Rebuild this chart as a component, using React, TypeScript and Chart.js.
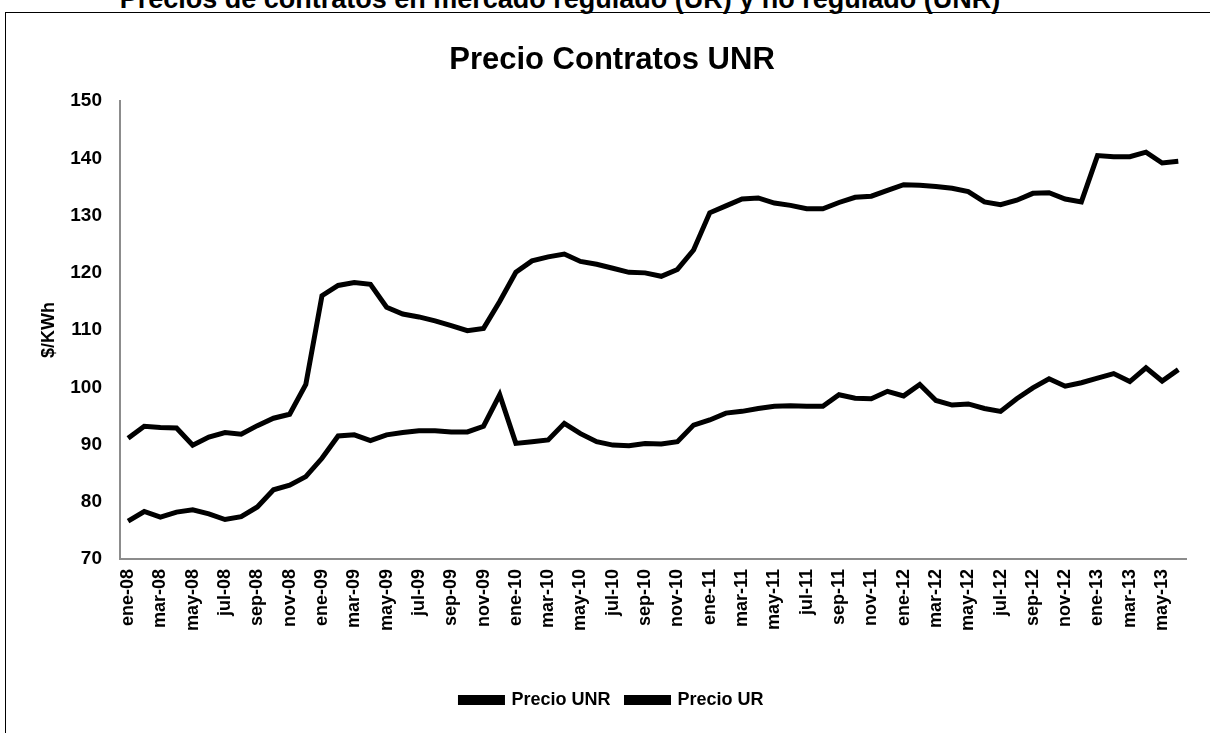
import React, { useEffect, useRef } from 'react';
import { Chart, registerables } from 'chart.js';

Chart.register(...registerables);

const pageTitle = 'Precios de contratos en mercado regulado (UR) y no regulado (UNR)';
const chartTitle = 'Precio Contratos UNR';
const yAxisTitle = '$/KWh';
const seriesNames = ['Precio UNR', 'Precio UR'];

const months = [
  'ene-08', 'feb-08', 'mar-08', 'abr-08', 'may-08', 'jun-08', 'jul-08', 'ago-08', 'sep-08', 'oct-08', 'nov-08', 'dic-08',
  'ene-09', 'feb-09', 'mar-09', 'abr-09', 'may-09', 'jun-09', 'jul-09', 'ago-09', 'sep-09', 'oct-09', 'nov-09', 'dic-09',
  'ene-10', 'feb-10', 'mar-10', 'abr-10', 'may-10', 'jun-10', 'jul-10', 'ago-10', 'sep-10', 'oct-10', 'nov-10', 'dic-10',
  'ene-11', 'feb-11', 'mar-11', 'abr-11', 'may-11', 'jun-11', 'jul-11', 'ago-11', 'sep-11', 'oct-11', 'nov-11', 'dic-11',
  'ene-12', 'feb-12', 'mar-12', 'abr-12', 'may-12', 'jun-12', 'jul-12', 'ago-12', 'sep-12', 'oct-12', 'nov-12', 'dic-12',
  'ene-13', 'feb-13', 'mar-13', 'abr-13', 'may-13', 'jun-13',
];

const precioUNR = [
  91.1, 93.2, 93.0, 92.9, 89.9, 91.3, 92.1, 91.8, 93.3, 94.6, 95.3, 100.5,
  116.0, 117.8, 118.3, 118.0, 114.0, 112.8, 112.3, 111.6, 110.8, 109.9, 110.3, 115.0,
  120.1, 122.1, 122.8, 123.3, 122.0, 121.5, 120.8, 120.1, 120.0, 119.4, 120.6, 124.0,
  130.5, 131.7, 132.9, 133.1, 132.2, 131.8, 131.2, 131.2, 132.3, 133.2, 133.4, 134.4,
  135.4, 135.3, 135.1, 134.8, 134.2, 132.4, 131.9, 132.7, 133.9, 134.0, 132.9, 132.4,
  140.5, 140.3, 140.3, 141.1, 139.2, 139.5,
];

const precioUR = [
  76.6, 78.3, 77.3, 78.2, 78.6, 77.9, 76.9, 77.4, 79.1, 82.1, 82.9, 84.4,
  87.6, 91.5, 91.7, 90.7, 91.7, 92.1, 92.4, 92.4, 92.2, 92.2, 93.2, 98.7,
  90.2, 90.5, 90.8, 93.7, 91.9, 90.5, 89.9, 89.8, 90.2, 90.1, 90.5, 93.4,
  94.3, 95.5, 95.8, 96.3, 96.7, 96.8, 96.7, 96.7, 98.7, 98.1, 98.0, 99.3,
  98.5, 100.5, 97.7, 96.9, 97.1, 96.3, 95.8, 98.0, 99.9, 101.5, 100.2, 100.8,
  101.6, 102.4, 101.0, 103.4, 101.1, 103.1,
];

const yMin = 70;
const yMax = 150;
const yStep = 10;

const FONT = "'Liberation Sans', Arial, sans-serif";

export default function App() {
  const ref = useRef<HTMLCanvasElement | null>(null);

  useEffect(() => {
    if (!ref.current) return;
    const chart = new Chart(ref.current, {
      type: 'line',
      data: {
        labels: months,
        datasets: [
          {
            label: seriesNames[0],
            data: precioUNR,
            borderColor: '#000',
            backgroundColor: '#000',
            borderWidth: 5,
            pointRadius: 0,
            tension: 0,
            yAxisID: 'y',
          },
          {
            label: seriesNames[1],
            data: precioUR,
            borderColor: '#000',
            backgroundColor: '#000',
            borderWidth: 5,
            pointRadius: 0,
            tension: 0,
            yAxisID: 'y',
          },
        ],
      },
      options: {
        responsive: false,
        animation: false,
        devicePixelRatio: 1,
        layout: { padding: { top: 42, left: 14, right: 0, bottom: 14 } },
        plugins: {
          title: {
            display: true,
            text: chartTitle,
            color: '#000',
            font: { family: FONT, size: 31, weight: 'bold' },
            padding: { top: 0, bottom: 22 },
          },
          legend: {
            display: true,
            position: 'bottom',
            labels: {
              color: '#000',
              boxWidth: 42,
              boxHeight: 5,
              padding: 16,
              font: { family: FONT, size: 18, weight: 'bold' },
            },
          },
          tooltip: { enabled: false },
        },
        scales: {
          x: {
            type: 'category',
            offset: true,
            grid: { display: true, drawOnChartArea: false, drawTicks: false },
            border: { display: true, color: '#8c8c8c', width: 2 },
            ticks: {
              autoSkip: false,
              maxRotation: 90,
              minRotation: 90,
              padding: 10,
              color: '#000',
              font: { family: FONT, size: 18, weight: 'bold' },
              callback: (_v: any, i: number) => (i % 2 === 0 ? months[i] : ''),
            },
            afterFit: (scale: any) => {
              scale.height = 116;
            },
          },
          y: {
            type: 'linear',
            position: 'left',
            min: yMin,
            max: yMax,
            grid: { display: true, drawOnChartArea: false, drawTicks: false },
            border: { display: true, color: '#8c8c8c', width: 2 },
            ticks: {
              stepSize: yStep,
              padding: 18,
              color: '#000',
              font: { family: FONT, size: 19, weight: 'bold' },
            },
            title: {
              display: true,
              text: yAxisTitle,
              color: '#000',
              font: { family: FONT, size: 18, weight: 'bold' },
              padding: { top: 24, bottom: 0 },
            },
            afterFit: (scale: any) => {
              scale.width = 106;
            },
          },
          yRight: {
            type: 'linear',
            position: 'right',
            min: yMin,
            max: yMax,
            grid: { display: false },
            border: { display: false },
            ticks: { display: false },
            afterFit: (scale: any) => {
              scale.width = 14;
            },
          },
        },
      },
    });
    return () => chart.destroy();
  }, []);

  return (
    <div
      style={{
        position: 'fixed',
        left: 0,
        top: 0,
        width: 1210,
        height: 733,
        background: '#fff',
        overflow: 'hidden',
      }}
    >
      <div
        style={{
          position: 'absolute',
          left: 0,
          top: -14,
          width: 1120,
          textAlign: 'center',
          whiteSpace: 'nowrap',
          font: `bold 27px ${FONT}`,
          lineHeight: '27px',
          color: '#000',
        }}
      >
        {pageTitle}
      </div>
      <div
        style={{
          position: 'absolute',
          left: 5,
          top: 12,
          width: 1240,
          height: 760,
          border: '1px solid #000',
        }}
      />
      <canvas
        ref={ref}
        width={1210}
        height={733}
        style={{ position: 'absolute', left: 0, top: 0, width: 1210, height: 733 }}
      />
    </div>
  );
}
